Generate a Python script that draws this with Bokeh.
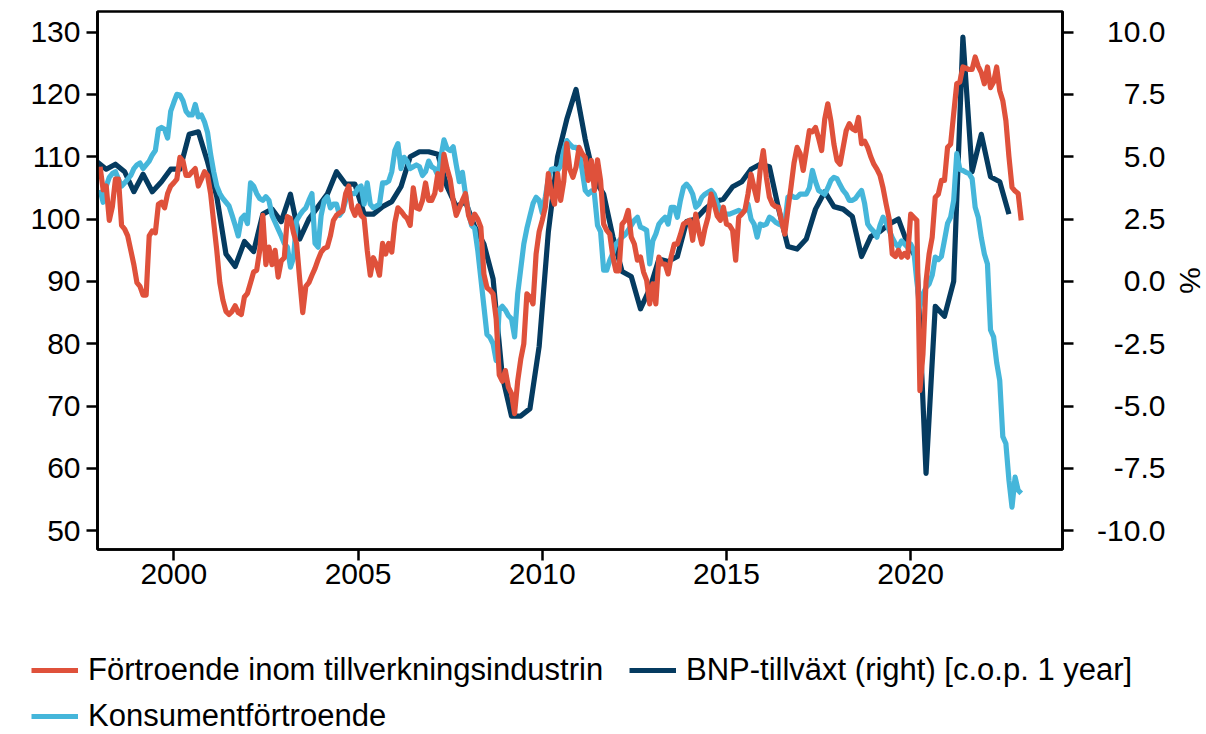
import math
import pandas as pd
from bokeh.plotting import figure
from bokeh.layouts import row, column
from bokeh.models import (Range1d, LinearAxis, FixedTicker, Legend, LegendItem,
                          ColumnDataSource, CustomJSTickFormatter)
from bokeh.core.properties import value
from bokeh.embed import file_html
from bokeh.resources import INLINE

FONT = "Liberation Sans"

# ---- data (monthly from Jan 1998, quarterly GDP from Q4 1997) ----
manuf = [
    108.4, 104.7, 105.3, 99.8, 102.0, 106.4, 106.4, 99.0, 98.4, 97.3, 95.0, 92.7,
    89.8, 89.2, 87.8, 87.8, 97.3, 98.1, 97.8, 102.4, 102.7, 101.8, 104.1, 105.3,
    105.8, 106.4, 109.9, 109.3, 107.0, 107.0, 107.6, 108.1, 105.3, 106.4, 107.6, 107.0,
    104.1, 99.5, 95.0, 89.8, 87.0, 85.2, 84.7, 85.2, 86.1, 85.0, 84.7, 87.5,
    88.1, 89.8, 91.5, 91.8, 95.0, 100.6, 92.7, 95.5, 92.7, 95.0, 90.7, 93.3,
    93.8, 100.4, 100.1, 97.8, 96.1, 90.4, 85.0, 89.2, 89.8, 91.0, 92.1, 93.5,
    94.7, 95.3, 95.5, 97.3, 99.8, 100.6, 101.0, 101.3, 104.1, 105.3, 101.8, 100.6,
    102.1, 100.6, 100.1, 95.0, 91.0, 93.8, 92.7, 91.0, 96.1, 94.4, 96.1, 94.7,
    99.4, 101.8, 101.3, 100.6, 100.1, 99.0, 105.0, 101.8, 101.6, 103.0, 105.8, 103.0,
    103.0, 104.1, 107.3, 104.7, 110.4, 108.1, 106.4, 103.0, 100.6, 101.8, 103.0, 104.1,
    100.6, 99.3, 100.8, 100.0, 98.7, 91.2, 89.0, 88.6, 88.0, 84.0, 75.0, 74.0,
    75.7, 73.0, 72.0, 68.8, 74.0, 77.5, 80.0, 88.0, 87.5, 86.4, 94.4, 98.0,
    99.8, 101.9, 107.3, 104.0, 102.4, 107.3, 103.0, 106.0, 112.1, 108.0, 106.7, 108.3,
    111.5, 110.5, 109.9, 106.2, 109.4, 104.6, 109.5, 106.2, 99.2, 98.2, 97.6, 94.0,
    91.7, 91.7, 99.2, 99.8, 101.4, 97.1, 96.0, 93.4, 93.9, 91.5, 90.2, 86.4,
    89.6, 86.4, 93.9, 92.8, 92.8, 91.2, 94.0, 96.0, 96.0, 97.5, 99.2, 99.5,
    99.8, 96.6, 100.8, 98.0, 96.0, 98.5, 100.3, 104.0, 102.4, 100.5, 99.8, 101.9,
    99.2, 99.0, 98.2, 93.4, 100.3, 100.8, 101.4, 104.0, 107.2, 105.0, 103.0, 108.0,
    111.0, 106.7, 103.5, 102.4, 102.0, 101.9, 99.5, 97.6, 101.5, 105.1, 109.0, 111.5,
    110.5, 107.8, 111.0, 114.2, 114.0, 114.7, 113.0, 111.0, 116.0, 118.5, 115.8, 112.0,
    109.4, 108.8, 111.5, 114.2, 115.3, 114.5, 114.2, 116.3, 112.1, 112.5, 111.5, 110.0,
    108.8, 108.0, 107.0, 105.0, 102.4, 100.0, 94.4, 94.0, 95.0, 93.9, 94.5, 93.9,
    100.8, 100.3, 99.8, 72.5, 78.4, 90.0, 94.4, 97.1, 103.5, 104.0, 106.2, 106.2,
    111.5, 112.0, 116.9, 121.7, 122.0, 124.4, 124.2, 124.0, 124.0, 126.0, 124.5, 123.5,
    121.7, 124.4, 121.1, 122.0, 124.4, 120.6, 119.0, 115.8, 110.0, 105.1, 104.5, 104.1,
    99.8,
]

consumer = [
    104.7, 102.7, 105.3, 106.7, 107.3, 107.6, 106.4, 105.3, 105.8, 106.4, 107.0, 108.1,
    108.7, 109.0, 108.1, 108.7, 109.3, 110.3, 111.0, 114.4, 114.7, 114.4, 113.0, 117.3,
    118.7, 120.0, 119.9, 119.0, 117.3, 116.7, 116.7, 118.4, 116.4, 116.7, 115.6, 113.9,
    110.4, 107.6, 105.3, 104.1, 103.3, 102.7, 102.1, 100.6, 99.0, 97.3, 100.1, 100.6,
    99.3, 105.8, 105.3, 104.1, 103.3, 103.0, 103.6, 103.0, 100.6, 99.5, 98.4, 97.3,
    96.1, 95.5, 92.3, 93.8, 99.8, 100.6, 101.3, 101.8, 103.0, 104.1, 96.1, 95.5,
    100.6, 103.0, 103.6, 101.8, 102.4, 102.4, 100.6, 101.3, 103.0, 104.1, 104.1, 104.1,
    105.0, 105.3, 102.4, 105.8, 102.4, 101.8, 102.1, 102.4, 105.8, 105.8, 106.1, 107.6,
    111.0, 112.1, 108.1, 109.9, 109.3, 108.1, 108.4, 108.7, 108.4, 107.0, 107.6, 109.3,
    108.4, 108.1, 107.0, 110.0, 112.7, 111.3, 111.0, 111.6, 108.7, 106.0, 107.5, 104.0,
    101.0, 99.0, 98.5, 95.0, 90.5, 86.0, 81.5, 81.0, 80.0, 77.3, 85.5, 86.0,
    85.4, 84.5, 84.0, 81.1, 88.0, 92.0, 96.0, 98.5, 100.5, 102.5, 103.5, 103.0,
    101.0, 103.5, 106.5, 108.0, 108.1, 107.8, 108.5, 111.0, 112.6, 112.0, 111.5, 111.5,
    111.0, 107.8, 104.6, 104.0, 104.5, 104.0, 99.0, 98.0, 91.8, 91.8, 93.4, 94.5,
    96.0, 96.5, 97.1, 97.5, 98.2, 99.0, 99.8, 100.3, 98.7, 98.5, 98.2, 92.8,
    96.5, 97.6, 99.2, 99.8, 100.3, 99.2, 101.9, 101.9, 100.3, 103.0, 105.1, 105.6,
    105.0, 104.0, 101.9, 102.4, 103.5, 104.0, 104.3, 104.6, 104.0, 102.5, 101.4, 100.8,
    100.8, 100.8, 101.0, 101.2, 101.4, 101.0, 101.4, 102.4, 100.0, 99.2, 97.1, 99.2,
    99.0, 99.2, 100.3, 100.0, 99.5, 99.2, 99.0, 99.2, 103.5, 103.8, 103.5, 103.5,
    104.0, 104.0, 104.0, 105.0, 107.8, 106.0, 104.6, 104.3, 104.0, 105.0, 106.2, 106.7,
    106.5, 105.5, 104.6, 104.0, 103.0, 103.0, 103.3, 104.0, 104.6, 102.5, 99.2, 98.5,
    98.0, 97.1, 99.0, 100.3, 99.5, 98.2, 97.0, 96.1, 95.5, 96.5, 96.0, 95.5,
    96.0, 95.0, 90.0, 86.0, 88.0, 89.0, 89.6, 91.0, 93.9, 93.5, 94.0, 96.6,
    99.3, 100.3, 103.0, 110.5, 108.0, 107.8, 107.5, 107.3, 106.5, 101.9, 100.3, 97.0,
    94.4, 92.8, 82.2, 81.1, 77.0, 74.1, 65.1, 64.0, 58.1, 53.8, 58.6, 56.5,
    56.0,
]

gdp = [
    4.8, 4.5, 4.7, 4.4, 3.6, 4.3, 3.6, 4.0, 4.5, 4.5, 5.9, 6.0,
    4.8, 3.4, 1.1, 0.6, 1.6, 1.2, 2.7, 2.9, 2.4, 3.5, 1.7, 2.5,
    3.0, 3.5, 4.4, 3.9, 3.9, 2.7, 2.7, 3.0, 3.2, 3.8, 5.0, 5.2,
    5.2, 5.1, 3.8, 3.0, 3.2, 2.2, 1.5, 0.1, -3.8, -5.4, -5.4, -5.1,
    -2.6, 2.0, 5.0, 6.5, 7.7, 5.7, 4.1, 3.5, 1.8, 0.4, 0.2, -1.1,
    -0.3, 0.9, 0.8, 1.0, 2.4, 2.5, 2.9, 3.2, 3.3, 3.8, 4.0, 4.5,
    4.7, 4.6, 2.9, 1.4, 1.3, 1.7, 2.9, 3.6, 3.0, 2.9, 2.6, 1.0,
    1.8, 2.0, 2.3, 2.5, 1.5, 0.9, -7.7, -1.0, -1.4, 0.0, 9.8, 4.4,
    5.9, 4.2, 4.0, 2.7,
]

left_ticks = [50, 60, 70, 80, 90, 100, 110, 120, 130]
right_ticks = [-10.0, -7.5, -5.0, -2.5, 0.0, 2.5, 5.0, 7.5, 10.0]
year_ticks = [2000, 2005, 2010, 2015, 2020]

label_manuf = "Förtroende inom tillverkningsindustrin"
label_gdp = "BNP-tillväxt (right) [c.o.p. 1 year]"
label_cons = "Konsumentförtroende"
right_title = "%"

RED = "#DF513B"
DARK = "#053B60"
LIGHT = "#45B6DA"
LW = 5.2

# ---- x positions (decimal years) ----
months = pd.date_range("1998-01-01", periods=len(manuf), freq="MS")
x_m = list(months.year + (months.month - 1) / 12.0)
quarters = pd.date_range("1997-12-01", periods=len(gdp), freq="3MS")
x_q = list(quarters.year + (quarters.month - 1) / 12.0)

src_m = ColumnDataSource(dict(x=x_m, manuf=manuf, cons=consumer))
src_q = ColumnDataSource(dict(x=x_q, gdp=gdp))

TOTAL_W = 1206
MAIN_W = 1082
CHART_H = 630
LEG_H = 734 - CHART_H
TOP = 11
BOTTOM = CHART_H - 549

y_left = Range1d(47.0, 133.3)
y_right = Range1d(-10.75, 10.825)

p = figure(width=MAIN_W, height=CHART_H, output_backend="svg", toolbar_location=None,
           x_range=Range1d(1997.93, 2024.12), y_range=y_left,
           min_border_left=97, min_border_right=20, min_border_top=TOP,
           min_border_bottom=BOTTOM, background_fill_color="white",
           border_fill_color="white")
p.extra_y_ranges = {"right": y_right}

p.xgrid.grid_line_color = None
p.ygrid.grid_line_color = None
p.outline_line_color = "black"
p.outline_line_width = 2.7
p.outline_line_alpha = 1.0

TICK_FS = "30px"

def style_axis(ax):
    ax.axis_line_color = "black"
    ax.axis_line_width = 2.7
    ax.major_tick_line_color = "black"
    ax.major_tick_line_width = 2.5
    ax.major_tick_in = 0
    ax.major_tick_out = 11
    ax.minor_tick_line_color = None
    ax.major_label_text_font = FONT
    ax.major_label_text_font_size = TICK_FS
    ax.major_label_text_color = "black"

xa = p.xaxis[0]
style_axis(xa)
xa.ticker = FixedTicker(ticks=year_ticks)
xa.major_label_standoff = 3

ya = p.yaxis[0]
style_axis(ya)
ya.ticker = FixedTicker(ticks=left_ticks)
ya.major_label_standoff = 6

# right axis: ticks only, its labels are drawn right-aligned in the side figure
ra = LinearAxis(y_range_name="right", ticker=FixedTicker(ticks=right_ticks),
                formatter=CustomJSTickFormatter(code="return ''"))
style_axis(ra)
ra.major_label_standoff = 0
p.add_layout(ra, "right")

r_gdp = p.line("x", "gdp", source=src_q, y_range_name="right", color=DARK,
               line_width=LW, line_join="round")
r_cons = p.line("x", "cons", source=src_m, color=LIGHT, line_width=LW, line_join="round")
r_manuf = p.line("x", "manuf", source=src_m, color=RED, line_width=LW, line_join="round")

# ---- side figure carrying the right-axis labels and title ----
SIDE_W = TOTAL_W - MAIN_W
side = figure(width=SIDE_W, height=CHART_H, output_backend="svg", toolbar_location=None,
              x_range=Range1d(0, SIDE_W), y_range=y_right,
              x_axis_location=None, y_axis_location=None,
              min_border_left=0, min_border_right=0, min_border_top=TOP,
              min_border_bottom=BOTTOM, background_fill_color="white",
              border_fill_color="white", outline_line_color=None)
side.xgrid.grid_line_color = None
side.ygrid.grid_line_color = None
lab_x = 1165 - MAIN_W
side.text(x=[lab_x] * len(right_ticks), y=right_ticks,
          text=[f"{v:.1f}" for v in right_ticks], text_align="right",
          text_baseline="middle", text_font=value(FONT), text_font_size=TICK_FS,
          text_color="black")
side.text(x=[1190 - MAIN_W], y=[(y_right.start + y_right.end) / 2], text=[right_title],
          angle=-math.pi / 2, text_align="center", text_baseline="middle",
          text_font=value(FONT), text_font_size=TICK_FS, text_color="black")

# ---- legend figure below the chart ----
# the legend's renderers reuse the real series; this figure's ranges keep them out of view
leg = figure(width=TOTAL_W, height=LEG_H, output_backend="svg", toolbar_location=None,
             x_range=Range1d(0, 1), y_range=Range1d(0, 1),
             x_axis_location=None, y_axis_location=None,
             min_border_left=0, min_border_right=0, min_border_top=0,
             min_border_bottom=0, background_fill_color="white",
             border_fill_color="white", outline_line_color=None)
leg.xgrid.grid_line_color = None
leg.ygrid.grid_line_color = None
k_manuf = leg.line("x", "manuf", source=src_m, color=RED, line_width=LW)
k_gdp = leg.line("x", "gdp", source=src_q, color=DARK, line_width=LW)
k_cons = leg.line("x", "cons", source=src_m, color=LIGHT, line_width=LW)

legend = Legend(items=[LegendItem(label=label_manuf, renderers=[k_manuf]),
                       LegendItem(label=label_gdp, renderers=[k_gdp]),
                       LegendItem(label=label_cons, renderers=[k_cons])],
                orientation="horizontal", ncols=2, location=(31, 0),
                padding=0, margin=0, spacing=10, label_standoff=10,
                glyph_width=47, glyph_height=20, label_width=531,
                label_text_font=FONT, label_text_font_size="31px",
                label_text_color="black", border_line_color=None,
                background_fill_alpha=0)
leg.add_layout(legend)

layout = column(row(p, side, spacing=0), leg, spacing=0)
open("out.html", "w").write(file_html(layout, INLINE))
